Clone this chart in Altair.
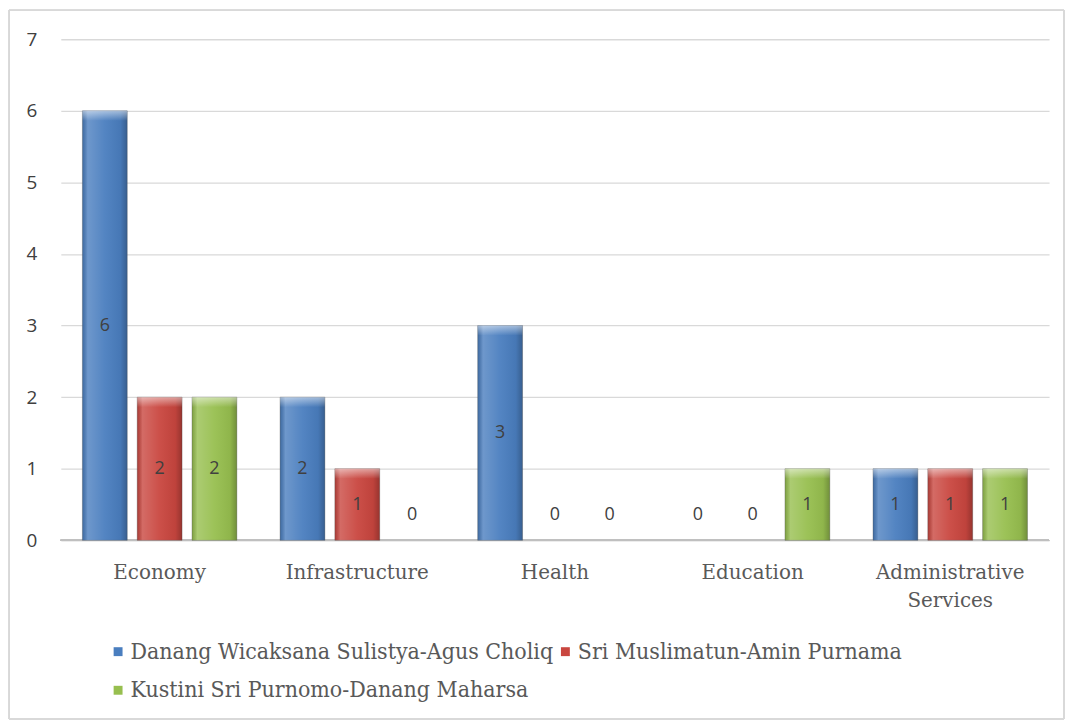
import altair as alt
import pandas as pd

categories = ["Economy", "Infrastructure", "Health", "Education", "Administrative Services"]
series = ["Danang Wicaksana Sulistya-Agus Choliq", "Sri Muslimatun-Amin Purnama", "Kustini Sri Purnomo-Danang Maharsa"]
danang = [6, 2, 3, 0, 1]
sri = [2, 1, 0, 0, 1]
kustini = [2, 0, 0, 1, 1]
colors = ["#4a7ebf", "#c9463f", "#97bf4f"]

rows = []
for s, vals in zip(series, [danang, sri, kustini]):
    for c, v in zip(categories, vals):
        rows.append({"category": c, "series": s, "value": v})
df = pd.DataFrame(rows)

# legend grid is filled column by column: order so rows read Danang, Sri / Kustini
legend_order = [series[0], series[2], series[1]]
legend_colors = [colors[0], colors[2], colors[1]]

x = alt.X("category:N", sort=categories, title=None,
          scale=alt.Scale(paddingInner=0, paddingOuter=0),
          axis=alt.Axis(labelAngle=0, labelFont="DejaVu Serif", labelFontSize=20,
                        labelColor="#595959", labelPadding=22, ticks=False,
                        domain=False, labelExpr="split(datum.label, ' ')",
                        labelLineHeight=28))
xo = alt.XOffset("series:N", sort=series,
                 scale=alt.Scale(paddingInner=0.1818, paddingOuter=0.394))
y = alt.Y("value:Q", title=None,
          scale=alt.Scale(domain=[0, 7], nice=False),
          axis=alt.Axis(values=list(range(8)), format="d", ticks=False, domain=False,
                        gridColor="#d9d9d9", gridWidth=1.3, labelFont="Open Sans",
                        labelFontSize=19, labelColor="#404040", labelPadding=24,
                        minExtent=40, maxExtent=40))

base = alt.Chart(df)

frame = base.mark_rect(fill=None, stroke="#d9d9d9", strokeWidth=1).encode(
    x=alt.value(-52), x2=alt.value(1007), y=alt.value(-29), y2=alt.value(682)
)

baseline = base.mark_rule(color="#bfbfbf", strokeWidth=1.5).encode(
    x=alt.value(0), x2=alt.value(992), y=alt.value(503)
)

bars = base.transform_filter("datum.value > 0").mark_bar(stroke="#5a5a5a", strokeOpacity=0.35, strokeWidth=1).encode(
    x=x, xOffset=xo, y=y,
    color=alt.Color("series:N", sort=legend_order, title=None,
                    scale=alt.Scale(domain=legend_order, range=legend_colors),
                    legend=alt.Legend(orient="none", legendX=46, legendY=603,
                                      columns=2, symbolType="square", symbolSize=80,
                                      symbolStrokeWidth=0, labelOffset=1,
                                      labelFont="DejaVu Serif Condensed, Liberation Serif",
                                      labelFontSize=23,
                                      labelColor="#595959", columnPadding=0,
                                      rowPadding=15, labelLimit=600, padding=0))
)

shade = base.transform_filter("datum.value > 0").mark_bar(
    color=alt.Gradient(
        gradient="linear", x1=0, x2=1, y1=0, y2=0,
        stops=[
            alt.GradientStop(color="rgba(0,0,0,0.15)", offset=0),
            alt.GradientStop(color="rgba(255,255,255,0.2)", offset=0.12),
            alt.GradientStop(color="rgba(255,255,255,0.05)", offset=0.5),
            alt.GradientStop(color="rgba(0,0,0,0.05)", offset=0.85),
            alt.GradientStop(color="rgba(0,0,0,0.25)", offset=1),
        ])
).encode(x=x, xOffset=xo, y=y)

top = base.transform_filter("datum.value > 0").mark_bar(
    color=alt.Gradient(
        gradient="linear", x1=0, x2=0, y1=0, y2=1,
        stops=[
            alt.GradientStop(color="rgba(255,255,255,0.5)", offset=0),
            alt.GradientStop(color="rgba(255,255,255,0.0)", offset=1),
        ])
).encode(x=x, xOffset=xo, y=y, y2=alt.Y2("top2:Q")).transform_calculate(
    top2="datum.value - 0.14"
)

labels = base.transform_filter("datum.value > 0").transform_calculate(
    mid="datum.value / 2"
).mark_text(font="Open Sans", fontSize=18, color="#404040").encode(
    x=x, xOffset=xo, y=alt.Y("mid:Q"), text=alt.Text("value:Q")
)

zeros = base.transform_filter("datum.value == 0").mark_text(
    font="Open Sans", fontSize=18, color="#404040", dy=-25
).encode(x=x, xOffset=xo, y=alt.Y("value:Q"), text=alt.Text("value:Q"))

chart = alt.layer(frame, baseline, bars, shade, top, labels, zeros).properties(
    width=992, height=503, padding=0, background="white"
).configure_view(stroke=None)

chart.save("out.html", embed_options={"renderer": "svg", "actions": False})
